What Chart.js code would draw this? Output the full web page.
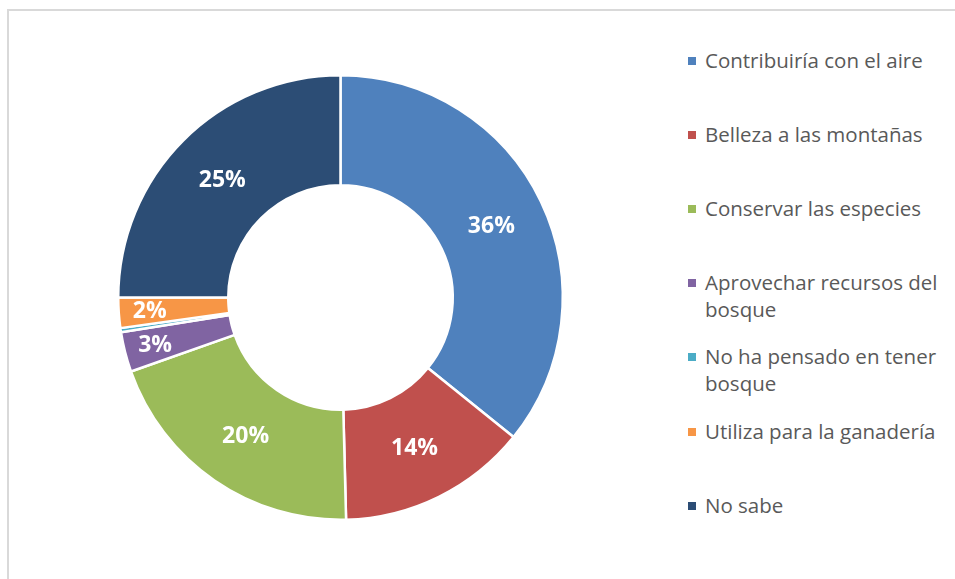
<!DOCTYPE html>
<html>
<head>
<meta charset="utf-8">
<script src="https://cdn.jsdelivr.net/npm/chart.js@4.4.0/dist/chart.umd.min.js"></script>
<style>
  html, body { margin: 0; padding: 0; background: #fff; }
  body { width: 955px; height: 579px; position: relative; overflow: hidden; font-family: "Open Sans", sans-serif; }
  #frame { position: absolute; left: 7px; top: 9px; width: 960px; height: 600px; border-left: 2px solid #d9d9d9; border-top: 2px solid #d9d9d9; }
  #wrap { position: absolute; left: 0; top: 0; width: 681px; height: 579px; }
  #legend { position: absolute; left: 688px; top: 0; width: 267px; }
  .item { position: absolute; left: 0; width: 265px; font-size: 20.5px; line-height: 27px; color: #595959; padding-left: 17px; box-sizing: border-box; }
  .item i { position: absolute; left: 0; top: 10px; width: 8px; height: 8px; }
</style>
</head>
<body>
<div id="frame"></div>
<div id="wrap"><canvas id="chart"></canvas></div>
<div id="legend"></div>
<script>
const categories = [
  "Contribuiría con el aire",
  "Belleza a las montañas",
  "Conservar las especies",
  "Aprovechar recursos del bosque",
  "No ha pensado en tener bosque",
  "Utiliza para la ganadería",
  "No sabe"
];
const percentages = [35.8, 13.8, 20.0, 2.9, 0.3, 2.2, 25.0];
const colors = ["#4F81BD", "#C0504D", "#9BBB59", "#8064A2", "#4BACC6", "#F79646", "#2C4D75"];

// etiquetas de porcentaje dentro del anillo
const sliceLabels = {
  id: "sliceLabels",
  afterDatasetsDraw(chart) {
    const ctx = chart.ctx;
    const meta = chart.getDatasetMeta(0);
    const total = percentages.reduce((a, b) => a + b, 0);
    ctx.save();
    ctx.fillStyle = "#fff";
    ctx.font = "bold 23px 'Open Sans'";
    ctx.textAlign = "center";
    ctx.textBaseline = "middle";
    meta.data.forEach((arc, i) => {
      const v = percentages[i];
      const txt = Math.round(v / total * 100);
      if (txt < 1) return;
      const p = arc.getProps(["x", "y", "startAngle", "endAngle", "innerRadius", "outerRadius"], true);
      const mid = (p.startAngle + p.endAngle) / 2;
      let r = (p.innerRadius + p.outerRadius) / 2;
      if (v / total < 0.05) r = p.outerRadius - 31;
      ctx.fillText(txt + "%", p.x + Math.cos(mid) * r, p.y + Math.sin(mid) * r + 1);
    });
    ctx.restore();
  }
};

new Chart(document.getElementById("chart"), {
  type: "doughnut",
  data: {
    labels: categories,
    datasets: [{
      data: percentages,
      backgroundColor: colors,
      borderColor: "#fff",
      borderWidth: 2.5,
      hoverOffset: 0
    }]
  },
  options: {
    responsive: true,
    maintainAspectRatio: false,
    animation: false,
    cutout: "50.5%",
    layout: { padding: { left: 117, right: 117, top: 74, bottom: 58 } },
    plugins: {
      legend: { display: false },
      tooltip: { enabled: false }
    }
  },
  plugins: [sliceLabels]
});

const legend = document.getElementById("legend");
categories.forEach((c, i) => {
  const d = document.createElement("div");
  d.className = "item";
  d.style.top = (60 + i * 74.2 - 13.5) + "px";
  d.innerHTML = `<i style="background:${colors[i]}"></i>${c}`;
  legend.appendChild(d);
});
</script>
</body>
</html>
